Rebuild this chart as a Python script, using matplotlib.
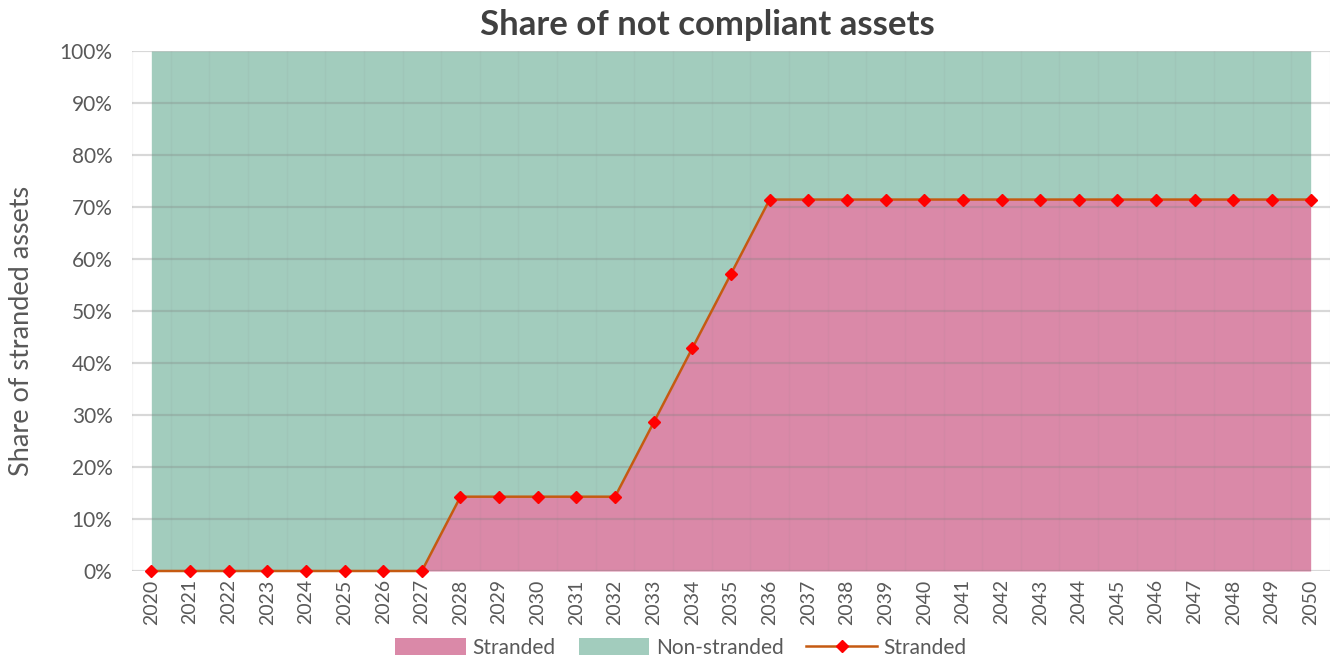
import matplotlib
matplotlib.use("Agg")
import matplotlib.pyplot as plt
from matplotlib.lines import Line2D
from matplotlib.patches import Patch
import numpy as np

years = [str(y) for y in range(2020, 2051)]
stranded = [0.0, 0.0, 0.0, 0.0, 0.0, 0.0, 0.0, 0.0,
            0.1429, 0.1429, 0.1429, 0.1429, 0.1429,
            0.2857, 0.4286, 0.5714,
            0.7143, 0.7143, 0.7143, 0.7143, 0.7143, 0.7143, 0.7143, 0.7143,
            0.7143, 0.7143, 0.7143, 0.7143, 0.7143, 0.7143, 0.7143]
non_stranded = [1.0 - s for s in stranded]
yticks = [0.0, 0.1, 0.2, 0.3, 0.4, 0.5, 0.6, 0.7, 0.8, 0.9, 1.0]

plt.rcParams['font.family'] = ['Lato', 'DejaVu Sans']

fig = plt.figure(figsize=(13.39, 6.6), dpi=100)
ax = fig.add_axes([132/1339, 1 - 571/660, (1330-132)/1339, (571-51)/660])

x = np.arange(len(years))
s = np.array(stranded)
ns = np.array(non_stranded)
ax.fill_between(x, 0, s, color='#DA89A8', linewidth=0, zorder=1)
ax.fill_between(x, s, s + ns, color='#A2CCBD', linewidth=0, zorder=1)

# gridlines on top
for yv in yticks:
    ax.axhline(yv, color='#808080', alpha=0.3, linewidth=1.6, zorder=2)
for xv in np.arange(-0.5, len(years)):
    ax.axvline(xv, color='#808080', alpha=0.07, linewidth=1.0, zorder=2)

ax.plot(x, s, color='#C55A11', linewidth=1.8, marker='D', markersize=6.5,
        markerfacecolor='#FF0000', markeredgecolor='#FF0000', zorder=4, clip_on=False)

ax.set_xlim(-0.5, len(years) - 0.5)
ax.set_ylim(0, 1)
ax.set_yticks(yticks)
ax.set_yticklabels([f"{int(round(v*100))}%" for v in yticks])
ax.set_xticks(x)
ax.set_xticklabels(years, rotation=90)
ax.tick_params(axis='y', length=0, labelsize=15, colors='#595959', pad=14)
ax.tick_params(axis='x', length=0, labelsize=14, colors='#595959', pad=6)
for sp in ax.spines.values():
    sp.set_visible(False)

ax.set_ylabel("Share of stranded assets", fontsize=19.5, color='#595959')
ax.yaxis.set_label_coords((34 - 132) / 1198, (571 - 331) / 520)
fig.text(707/1339, 1 - 25/660, "Share of not compliant assets", ha='center', va='center',
         fontsize=25, fontweight='bold', color='#404040')

handles = [Patch(facecolor='#DA89A8', edgecolor='none'),
           Patch(facecolor='#A2CCBD', edgecolor='none'),
           Line2D([0], [0], color='#C55A11', linewidth=1.8, marker='D', markersize=6.5,
                  markerfacecolor='#FF0000', markeredgecolor='#FF0000')]
fig.legend(handles, ["Stranded", "Non-stranded", "Stranded"], loc='center',
           bbox_to_anchor=(681/1339, 1 - 648/660), ncol=3, frameon=False,
           fontsize=15, labelcolor='#595959', handlelength=3.4, handleheight=0.9,
           columnspacing=1.1, handletextpad=0.3)

fig.savefig("out.png", dpi=100)
